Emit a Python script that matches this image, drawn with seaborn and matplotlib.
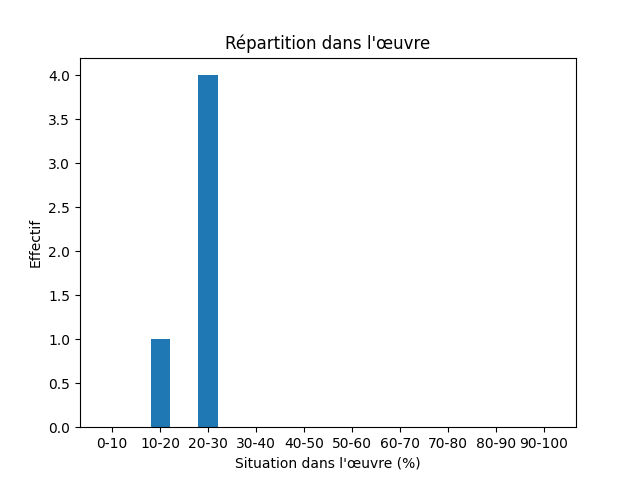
import matplotlib
matplotlib.use("Agg")
import matplotlib.pyplot as plt
import seaborn as sns
import pandas as pd

tranches = ["0-10", "10-20", "20-30", "30-40", "40-50",
            "50-60", "60-70", "70-80", "80-90", "90-100"]
effectifs = [0, 1, 4, 0, 0, 0, 0, 0, 0, 0]

df = pd.DataFrame({"tranche": tranches, "effectif": effectifs})

fig, ax = plt.subplots(figsize=(6.4, 4.8), dpi=100)
sns.barplot(data=df, x="tranche", y="effectif", order=tranches,
            color="#1f77b4", saturation=1, width=0.4, errorbar=None, ax=ax)

ax.set_xlim(-0.67, 9.67)
ax.set_ylim(0, 4.2)
ax.set_title("Répartition dans l'œuvre")
ax.set_xlabel("Situation dans l'œuvre (%)")
ax.set_ylabel("Effectif")

fig.savefig("out.png", dpi=100)
